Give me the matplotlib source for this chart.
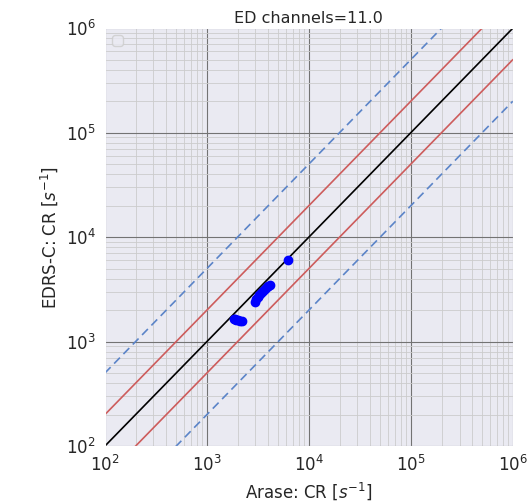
import matplotlib
matplotlib.use('Agg')
import matplotlib.pyplot as plt
import numpy as np
import seaborn as sns

# conteos de Arase vs EDRS-C
arase_cr = [1850, 1900, 1950, 2000, 2100, 2200,
            2950, 3050, 3150, 3250, 3400, 3550, 3700, 3850, 4000, 4150,
            6200]
edrs_cr = [1660, 1640, 1620, 1600, 1580, 1560,
           2400, 2550, 2650, 2800, 2950, 3050, 3200, 3300, 3400, 3500,
           6000]

ratios = [1, 2, 0.5, 5, 0.2]
ratio_colors = ['black', 'indianred', 'indianred', '#5b84c8', '#5b84c8']
ratio_styles = ['-', '-', '-', (0, (5, 3)), (0, (5, 3))]

titulo = 'ED channels=11.0'

sns.set_style('darkgrid')
plt.rcParams['font.family'] = ['DejaVu Sans']

fig, ax = plt.subplots(figsize=(5.32, 5.03), dpi=100)
fig.subplots_adjust(left=0.197, right=0.964, top=0.944, bottom=0.113)

xx = np.array([1e2, 1e6])
for r, c, ls in zip(ratios, ratio_colors, ratio_styles):
    ax.plot(xx, xx * r, color=c, linestyle=ls, linewidth=1.2)

ax.plot(arase_cr, edrs_cr, 'o', color='blue', markersize=6)

ax.set_xscale('log')
ax.set_yscale('log')
ax.set_xlim(1e2, 1e6)
ax.set_ylim(1e2, 1e6)
ax.grid(True, which='major', color='0.45', linewidth=0.8)
ax.grid(True, which='minor', color='0.8', linewidth=0.6)
ax.tick_params(which='major', length=3, labelsize=12, colors='0.15')
ax.tick_params(which='minor', length=0)

ax.set_xlabel('Arase: CR [$s^{-1}$]', fontsize=12, color='0.15')
ax.set_ylabel('EDRS-C: CR [$s^{-1}$]', fontsize=12, color='0.15')
ax.set_title(titulo, fontsize=11.5, color='0.15', pad=4)
ax.legend(loc='upper left')

plt.savefig('out.png', dpi=100)
